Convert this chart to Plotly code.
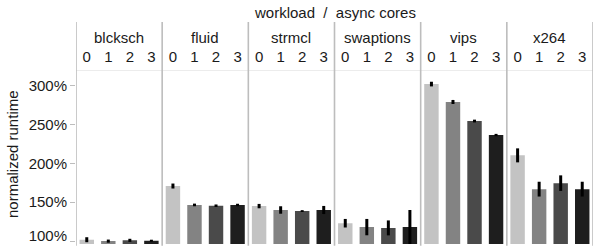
import plotly.graph_objects as go

workloads = ["blcksch", "fluid", "strmcl", "swaptions", "vips", "x264"]
cores = ["0", "1", "2", "3"]

runtime_core0 = [101.8, 170.8, 145.0, 123.0, 301.8, 210.2]
runtime_core1 = [100.0, 146.5, 140.0, 118.0, 278.8, 166.8]
runtime_core2 = [101.0, 145.5, 138.6, 117.0, 254.3, 174.5]
runtime_core3 = [100.5, 146.4, 140.0, 118.0, 236.3, 166.8]

err_core0 = [3.2, 3.2, 2.8, 5.5, 3.0, 9.0]
err_core1 = [2.0, 1.7, 4.8, 10.5, 2.6, 9.5]
err_core2 = [2.0, 1.6, 1.2, 9.6, 1.8, 10.0]
err_core3 = [1.3, 1.6, 5.2, 22.0, 1.5, 9.5]

y_ticks = [100, 150, 200, 250, 300]
y_ticklabels = ["100%", "150%", "200%", "250%", "300%"]

series = [runtime_core0, runtime_core1, runtime_core2, runtime_core3]
errors = [err_core0, err_core1, err_core2, err_core3]
colors = ["#c3c3c3", "#838383", "#4a4a4a", "#1e1e1e"]

FONT = "Liberation Sans, Arial, sans-serif"
TXT = "#1a1a1a"
n_cores = len(cores)
Y_RANGE = [96.3, 318.6]

fig = go.Figure()
for c, (vals, errs) in enumerate(zip(series, errors)):
    xs = [w * n_cores + c for w in range(len(workloads))]
    fig.add_trace(go.Bar(
        x=xs, y=vals, width=0.67,
        marker=dict(color=colors[c], line=dict(width=0)),
        error_y=dict(type="data", array=errs, visible=True, color="black",
                     thickness=3, width=0),
        showlegend=False, hoverinfo="skip",
    ))
# empty helper trace so the overlay axis (bottom tick label) is drawn
fig.add_trace(go.Scatter(x=[], y=[], yaxis="y2", showlegend=False, hoverinfo="skip"))

tickvals = [w * n_cores + c for w in range(len(workloads)) for c in range(n_cores)]
ticktext = [cores[c] for w in range(len(workloads)) for c in range(n_cores)]

W, H = 595, 246
ml, mr, mt, mb = 76, 2, 71, 2
plot_h = H - mt - mb
plot_w = W - ml - mr

def py(px):
    return (H - mb - px) / plot_h

def pxx(px):
    return (px - ml) / plot_w

shapes = []
for w in range(len(workloads) + 1):
    xv = w * n_cores - 0.5
    shapes.append(dict(type="line", xref="x", yref="paper", x0=xv, x1=xv,
                       y0=-0.01, y1=py(22), line=dict(color="#bdbdbd", width=1.6)))

annotations = []
for w, name in enumerate(workloads):
    annotations.append(dict(text=name, x=w * n_cores + (n_cores - 1) / 2, xref="x",
                            y=py(37), yref="paper", showarrow=False,
                            xanchor="center", yanchor="middle",
                            font=dict(family=FONT, size=15, color=TXT)))
annotations.append(dict(text="workload  /  async cores", x=0.5, xref="paper",
                        y=py(12), yref="paper", showarrow=False,
                        xanchor="center", yanchor="middle",
                        font=dict(family=FONT, size=15, color=TXT)))
annotations.append(dict(text="normalized runtime", x=pxx(12), xref="paper",
                        y=py(154), yref="paper", showarrow=False, textangle=-90,
                        xanchor="center", yanchor="middle",
                        font=dict(family=FONT, size=15, color=TXT)))

ytick_common = dict(range=Y_RANGE, tickmode="array", ticks="outside", ticklen=5,
                    tickcolor="#bdbdbd", showgrid=False, zeroline=False,
                    showline=False, automargin=False,
                    tickfont=dict(family=FONT, size=15, color=TXT))

fig.update_layout(
    width=W, height=H,
    margin=dict(l=ml, r=mr, t=mt, b=mb, autoexpand=False),
    paper_bgcolor="white", plot_bgcolor="white",
    barmode="overlay",
    font=dict(family=FONT, size=15, color=TXT),
    shapes=shapes, annotations=annotations,
    xaxis=dict(range=[-0.5, len(workloads) * n_cores - 0.5], side="top",
               tickmode="array", tickvals=tickvals, ticktext=ticktext,
               ticks="", showgrid=False, zeroline=False, automargin=False,
               showline=True, linecolor="#ececec", linewidth=1,
               tickfont=dict(family=FONT, size=15, color=TXT),
               ticklabelstandoff=2),
    yaxis=dict(tickvals=y_ticks[1:], ticktext=y_ticklabels[1:], **ytick_common),
    yaxis2=dict(tickvals=y_ticks[:1], ticktext=y_ticklabels[:1], overlaying="y",
                side="left", ticklabelshift=-5, ticklabeloverflow="allow",
                **ytick_common),
)

fig.write_html("out.html", config={"displayModeBar": False},
               post_script="document.body.style.margin='0';document.body.style.overflow='hidden';")
